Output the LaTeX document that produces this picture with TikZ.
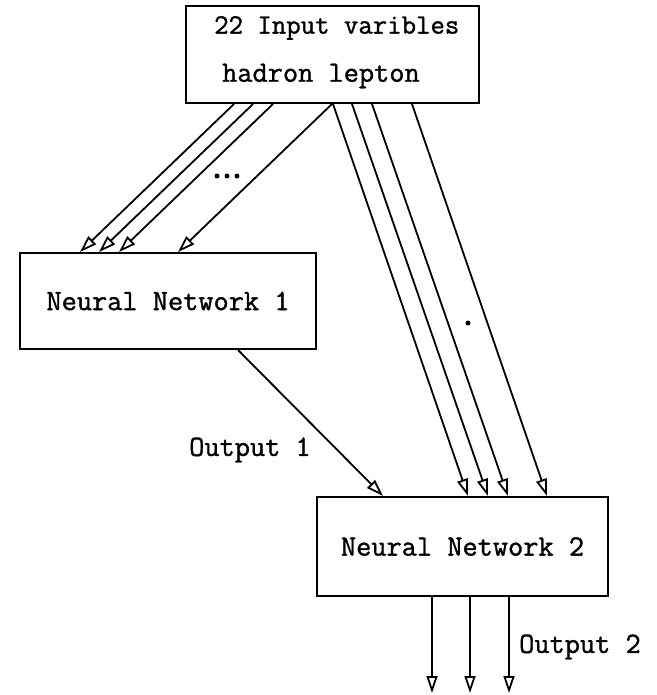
\documentclass[tikz,border=0pt]{standalone}
\usepackage{fontspec}
\newfontfamily\plotfont{Latin Modern Mono}[FakeBold=1.2]
\usetikzlibrary{arrows.meta,calc}

\tikzset{
  x=1pt, y=-1pt,
  blockbox/.style={draw, line width=2pt, inner sep=0pt, anchor=north west},
  lbl/.style={font=\plotfont\fontsize{29.5}{34}\selectfont, inner sep=0pt},
  feed/.style={line width=1.8pt, -{Triangle[open, length=17pt, width=11pt, line width=1.8pt]}},
  dotmark/.style={fill=black, draw=none}
}

\begin{document}
\begin{tikzpicture}
\useasboundingbox (0,0) rectangle (656,695);

% boxes
\node[blockbox, minimum width=293pt, minimum height=97pt] (inp) at (185,5) {};
\node[blockbox, minimum width=296pt, minimum height=96pt] (nn1) at (19,252) {};
\node[blockbox, minimum width=291pt, minimum height=99pt] (nn2) at (316,496) {};

% box texts
\node[lbl, anchor=west, font=\plotfont\fontsize{28}{34}\selectfont] (inptxt1) at (214,28) {22 Input varibles};
\node[lbl, anchor=west] (inptxt2) at (222,76) {hadron lepton};
\node[lbl] (nn1txt) at (nn1.center) {Neural Network 1};
\node[lbl] (nn2txt) at (nn2.center) {Neural Network 2};
\node[lbl] (out1) at (250,450) {Output 1};
\node[lbl, anchor=west] (out2) at (519,647) {Output 2};

% inputs into network 1
\draw[feed] ([xshift=49pt]inp.south west) -- ([xshift=61pt]nn1.north west);
\draw[feed] ([xshift=68pt]inp.south west) -- ([xshift=80pt]nn1.north west);
\draw[feed] ([xshift=88pt]inp.south west) -- ([xshift=100pt]nn1.north west);
\draw[feed] ([xshift=147pt]inp.south west) -- ([xshift=159pt]nn1.north west);

% inputs into network 2
\draw[feed] ([xshift=148pt]inp.south west) -- ([xshift=152pt]nn2.north west);
\draw[feed] ([xshift=167pt]inp.south west) -- ([xshift=172pt]nn2.north west);
\draw[feed] ([xshift=187pt]inp.south west) -- ([xshift=192pt]nn2.north west);
\draw[feed] ([xshift=227pt]inp.south west) -- ([xshift=231pt]nn2.north west);

% network 1 output into network 2
\draw[feed] ([xshift=219pt]nn1.south west) -- ([xshift=67pt]nn2.north west);

% final outputs
\coordinate (o1) at (432,693);
\coordinate (o2) at (470,693);
\coordinate (o3) at (509,693);
\draw[feed] ([xshift=116pt]nn2.south west) -- (o1);
\draw[feed] ([xshift=154pt]nn2.south west) -- (o2);
\draw[feed] ([xshift=193pt]nn2.south west) -- (o3);

% ellipsis marks between the input lines
\fill[dotmark] (217,176) circle (2.5);
\fill[dotmark] (227,176) circle (2.5);
\fill[dotmark] (237,176) circle (2.5);
\fill[dotmark] (468,323) circle (2.5);
\end{tikzpicture}
\end{document}
